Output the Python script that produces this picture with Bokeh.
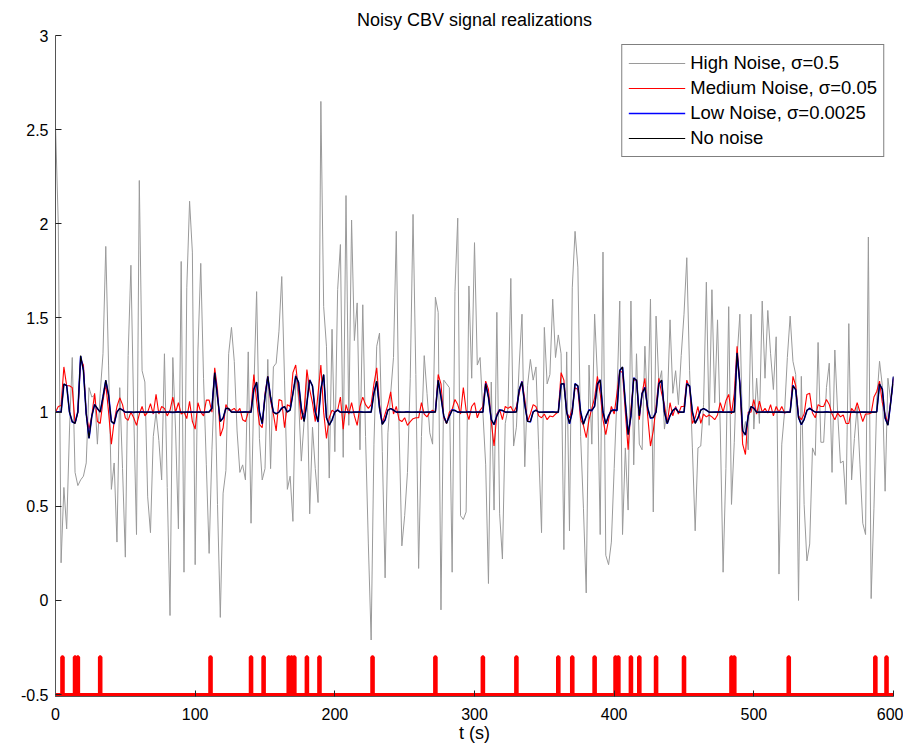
import numpy as np
from bokeh.plotting import figure
from bokeh.models import FixedTicker, Range1d, PrintfTickFormatter
from bokeh.embed import file_html
from bokeh.resources import INLINE

# ---------------- data ----------------
title_text = "Noisy CBV signal realizations"
x_label = "t (s)"
t_start, t_end, dt = 0, 600, 2
x_ticks = [0, 100, 200, 300, 400, 500, 600]
y_ticks = [-0.5, 0, 0.5, 1, 1.5, 2, 2.5, 3]

series_names = ["High Noise, σ=0.5", "Medium Noise, σ=0.05",
                "Low Noise, σ=0.0025", "No noise"]

# stimulus onsets (s) and the levels of the stimulus trace
stim_times = [5, 14, 16, 32, 111, 140, 149, 167, 169, 171, 180, 189, 227,
              272, 306, 330, 360, 370, 386, 401, 403, 412, 418, 430, 450,
              484, 486, 525, 587, 595]
stim_off, stim_on = -0.5, -0.3

# samples every 2 s, t = 0 ... 600 (10 values per row)
no_noise = [
    1.0, 1.0, 1.0, 1.15, 1.14, 1.0, 0.95, 0.94, 1.0, 1.30,
    1.22, 0.99, 0.86, 0.98, 1.04, 1.02, 1.0, 1.08, 1.17, 1.09,
    0.95, 0.94, 1.0, 1.02, 1.01, 1.0, 1.0, 1.0, 1.0, 1.0,
    1.0, 1.0, 1.0, 1.0, 1.0, 1.0, 1.0, 1.0, 1.0, 1.0,
    1.0, 1.0, 1.0, 1.0, 1.0, 1.0, 1.0, 1.0, 1.0, 1.0,
    1.0, 1.0, 1.0, 1.0, 1.0, 1.0, 1.02, 1.21, 1.08, 0.95,
    0.97, 1.02, 1.02, 1.0, 1.0, 1.0, 1.0, 1.0, 1.0, 1.0,
    1.0, 1.12, 1.16, 1.0, 0.94, 1.08, 1.19, 1.08, 1.0, 0.99,
    1.0, 1.02, 1.03, 1.0, 1.01, 1.1, 1.19, 1.16, 1.02, 0.95,
    1.05, 1.17, 1.14, 1.0, 0.95, 1.12, 1.2, 0.97, 0.93, 0.96,
    1.0, 1.01, 1.0, 1.0, 1.0, 1.0, 1.0, 1.0, 1.0, 1.0,
    1.0, 1.0, 1.0, 1.0, 1.1, 1.165, 1.02, 0.935, 0.96, 1.01,
    1.02, 1.01, 1.0, 1.0, 1.0, 1.0, 1.0, 1.0, 1.0, 1.0,
    1.0, 1.0, 1.0, 1.0, 1.0, 1.0, 1.0, 1.17, 1.08, 0.98,
    0.94, 0.98, 1.01, 1.01, 1.0, 1.0, 1.0, 1.0, 1.0, 1.0,
    1.0, 1.0, 1.0, 1.0, 1.15, 1.08, 0.96, 0.935, 0.98, 1.01,
    1.01, 1.0, 1.0, 1.0, 1.0, 1.0, 1.12, 1.16, 1.04, 0.95,
    0.95, 1.0, 1.01, 1.0, 1.0, 1.0, 1.0, 1.0, 1.0, 1.0,
    1.0, 1.15, 1.15, 1.0, 0.94, 1.0, 1.15, 1.14, 1.0, 0.935,
    0.98, 1.01, 1.01, 1.03, 1.15, 1.17, 1.0, 0.94, 0.98, 1.01,
    1.01, 1.01, 1.22, 1.24, 1.05, 0.88, 0.98, 1.18, 1.17, 0.98,
    1.1, 1.13, 1.02, 0.97, 0.97, 1.0, 1.15, 1.17, 1.0, 0.94,
    0.98, 1.01, 1.02, 1.0, 1.0, 1.0, 1.15, 1.14, 1.0, 0.94,
    0.97, 1.01, 1.02, 1.01, 1.0, 1.0, 1.0, 1.0, 1.0, 1.0,
    1.0, 1.0, 1.0, 1.0, 1.315, 1.15, 0.9, 0.88, 0.98, 1.03,
    1.02, 1.0, 1.0, 1.0, 1.0, 1.0, 1.0, 1.0, 1.0, 1.0,
    1.0, 1.0, 1.0, 1.0, 1.14, 1.12, 0.97, 0.935, 0.96, 1.01,
    1.02, 1.01, 1.0, 1.0, 1.0, 1.0, 1.0, 1.0, 1.0, 1.0,
    1.0, 1.0, 1.0, 1.0, 1.0, 1.0, 1.0, 1.0, 1.0, 1.0,
    1.0, 1.0, 1.0, 1.0, 1.0, 1.15, 1.12, 0.97, 0.93, 1.05,
    1.19,
]

low_noise = [
    1.0, 1.002, 0.999, 1.148, 1.142, 1.001, 0.948, 0.942, 1.002, 1.297,
    1.222, 0.992, 0.862, 0.978, 1.041, 1.018, 1.001, 1.082, 1.168, 1.092,
    0.951, 0.938, 1.002, 1.019, 1.012, 0.999, 1.001, 1.0, 0.998, 1.001,
    1.0, 1.002, 0.999, 1.0, 1.001, 0.998, 1.0, 1.002, 1.0, 0.999,
    1.001, 1.0, 0.998, 1.0, 1.002, 1.0, 0.999, 1.001, 1.0, 1.0,
    0.999, 1.001, 1.0, 0.998, 1.0, 1.002, 1.021, 1.208, 1.082, 0.952,
    0.968, 1.021, 1.018, 1.001, 1.0, 0.999, 1.001, 1.0, 1.002, 1.0,
    0.999, 1.122, 1.158, 1.002, 0.938, 1.082, 1.188, 1.079, 1.001, 0.992,
    1.0, 1.022, 1.028, 1.001, 1.012, 1.098, 1.192, 1.158, 1.021, 0.952,
    1.048, 1.172, 1.138, 1.002, 0.948, 1.122, 1.198, 0.972, 0.932, 0.958,
    1.001, 1.012, 0.999, 1.0, 1.001, 1.0, 0.998, 1.001, 1.0, 1.002,
    1.0, 0.999, 1.001, 1.0, 1.102, 1.162, 1.022, 0.937, 0.958, 1.012,
    1.018, 1.011, 1.0, 1.001, 0.999, 1.0, 1.002, 1.0, 0.999, 1.0,
    1.001, 1.0, 0.998, 1.0, 1.001, 1.0, 1.002, 1.168, 1.082, 0.978,
    0.942, 0.978, 1.012, 1.008, 1.0, 1.001, 0.999, 1.0, 1.002, 1.0,
    0.999, 1.001, 1.0, 1.0, 1.152, 1.078, 0.962, 0.933, 0.982, 1.012,
    1.008, 1.0, 1.001, 0.999, 1.0, 1.002, 1.118, 1.162, 1.038, 0.952,
    0.948, 1.002, 1.011, 1.0, 0.999, 1.001, 1.0, 1.0, 1.002, 0.999,
    1.0, 1.148, 1.152, 1.002, 0.938, 1.001, 1.152, 1.138, 1.002, 0.937,
    0.978, 1.012, 1.008, 1.032, 1.148, 1.172, 1.002, 0.938, 0.982, 1.008,
    1.012, 1.008, 1.222, 1.238, 1.052, 0.882, 0.978, 1.182, 1.168, 0.982,
    1.098, 1.132, 1.022, 0.968, 0.972, 1.001, 1.152, 1.168, 1.002, 0.938,
    0.982, 1.008, 1.022, 1.0, 1.001, 0.999, 1.152, 1.138, 1.002, 0.942,
    0.968, 1.012, 1.018, 1.011, 1.0, 0.999, 1.001, 1.0, 1.002, 1.0,
    0.999, 1.001, 1.0, 1.002, 1.312, 1.152, 0.902, 0.878, 0.982, 1.028,
    1.022, 1.0, 0.999, 1.001, 1.0, 1.002, 1.0, 0.999, 1.0, 1.001,
    1.0, 0.998, 1.001, 1.0, 1.142, 1.118, 0.972, 0.933, 0.962, 1.008,
    1.022, 1.008, 1.0, 1.001, 0.999, 1.0, 1.002, 1.0, 0.999, 1.001,
    1.0, 1.0, 1.002, 0.999, 1.0, 1.001, 1.0, 0.998, 1.0, 1.001,
    1.0, 0.999, 1.001, 1.0, 1.002, 1.148, 1.122, 0.968, 0.932, 1.052,
    1.188,
]

medium_noise = [
    1.0, 1.03, 1.035, 1.24, 1.14, 1.14, 1.13, 0.94, 1.0, 1.28,
    1.25, 0.99, 0.91, 0.98, 1.10, 0.95, 0.94, 1.06, 1.15, 1.0,
    0.83, 0.95, 1.03, 1.076, 1.04, 0.97, 0.956, 1.0, 0.97, 0.93,
    0.99, 1.03, 0.98, 1.0, 1.045, 0.99, 1.094, 0.99, 1.03, 1.02,
    0.98, 1.01, 1.08, 1.0, 1.05, 0.99, 1.0, 0.966, 1.058, 0.95,
    0.91, 1.05, 1.0, 0.98, 1.064, 1.064, 1.0, 1.235, 1.12, 0.873,
    0.917, 1.04, 1.01, 1.01, 1.02, 1.0, 1.02, 0.96, 0.95, 1.0,
    1.01, 1.2, 1.06, 0.935, 0.917, 1.1, 1.19, 1.06, 0.99, 0.90,
    1.067, 1.06, 0.917, 1.04, 1.03, 1.21, 1.25, 1.11, 0.96, 1.0,
    1.226, 1.12, 1.05, 0.95, 1.1, 1.25, 1.0, 0.86, 0.97, 1.01,
    1.0, 1.01, 1.08, 0.91, 1.04, 0.99, 1.05, 0.98, 0.93, 1.03,
    1.08, 1.04, 1.02, 1.04, 1.15, 1.235, 1.04, 0.94, 0.99, 1.04,
    1.108, 0.99, 1.03, 0.96, 0.95, 0.97, 0.93, 0.95, 0.965, 0.97,
    0.97, 1.05, 0.99, 0.975, 1.0, 1.01, 1.0, 1.2, 1.15, 0.97,
    0.94, 1.0, 1.015, 1.067, 1.04, 0.99, 1.13, 1.01, 0.96, 1.03,
    1.05, 0.97, 1.01, 1.03, 1.165, 1.12, 0.95, 0.82, 0.99, 1.015,
    0.96, 1.03, 1.02, 1.03, 1.0, 1.03, 1.1, 1.165, 1.07, 0.95,
    0.99, 1.04, 1.03, 0.98, 0.97, 0.99, 0.96, 0.98, 0.975, 0.99,
    1.0, 1.21, 1.17, 1.0, 0.97, 1.02, 1.13, 1.12, 0.96, 0.93,
    0.864, 0.96, 1.02, 1.076, 1.19, 1.1, 0.96, 0.88, 0.96, 1.03,
    0.99, 1.1, 1.22, 1.21, 1.0, 0.80, 1.02, 1.17, 1.17, 0.96,
    1.1, 1.18, 0.98, 0.82, 0.9, 1.03, 1.18, 1.1, 1.04, 0.94,
    1.05, 0.98, 1.03, 0.99, 1.03, 1.03, 1.17, 1.13, 0.94, 0.97,
    1.03, 0.94, 0.99, 0.975, 0.985, 0.975, 0.96, 0.985, 1.05, 1.0,
    1.06, 1.094, 0.99, 1.1, 1.35, 1.15, 0.83, 0.775, 1.0, 1.0,
    1.067, 0.99, 1.058, 1.0, 1.02, 0.995, 1.04, 0.98, 1.03, 1.0,
    1.03, 0.995, 1.0, 1.0, 1.19, 1.14, 0.98, 0.96, 0.99, 1.094,
    1.1, 0.995, 0.97, 1.04, 1.03, 1.03, 1.067, 1.04, 0.99, 0.96,
    0.995, 0.975, 0.985, 0.94, 0.94, 1.02, 1.0, 1.05, 1.0, 0.95,
    0.99, 0.99, 0.995, 1.08, 1.11, 1.165, 1.05, 0.99, 0.94, 1.06,
    1.18,
]

high_noise = [
    2.52, 2.0, 0.2, 0.6, 0.38, 0.9, 1.29, 0.68, 0.61, 0.64,
    0.66, 0.73, 1.13, 1.08, 1.09, 0.83, 1.1, 1.31, 1.88, 1.25,
    0.59, 0.73, 0.31, 1.13, 0.7, 0.23, 1.3, 1.78, 1.0, 0.35,
    2.23, 1.22, 1.16, 0.55, 0.36, 0.87, 1.0, 0.85, 0.64, 1.31,
    0.6, -0.08, 1.29, 0.9, 0.38, 1.8, 0.15, 1.66, 2.12, 1.85,
    0.19, 1.33, 1.79, 1.18, 0.72, 0.25, 0.8, 1.2, 0.51, -0.09,
    0.57, 0.69, 1.31, 1.45, 1.27, 0.9, 0.68, 0.72, 0.64, 1.32,
    0.41, 1.11, 1.64, 0.86, 0.64, 0.7, 1.28, 0.7, 1.24, 1.26,
    1.43, 1.72, 1.17, 0.59, 0.66, 0.42, 1.2, 1.07, 0.74, 0.95,
    1.2, 0.46, 0.92, 0.7, 0.52, 2.65, 1.56, 1.35, 0.65, 1.44,
    0.79, 1.65, 1.89, 0.76, 2.15, 0.93, 2.02, 1.38, 1.58, 0.8,
    1.57, 0.87, 0.3, -0.21, 0.83, 1.35, 1.42, 0.79, 0.12, 0.89,
    1.1, 1.29, 1.96, 0.91, 0.29, 0.45, 0.68, 1.18, 2.05, 1.2,
    0.17, 0.87, 1.3, 1.1, 0.89, 0.83, 1.61, 1.53, -0.05, 1.17,
    1.15, 1.13, 0.15, 1.64, 2.03, 0.45, 0.43, 0.47, 1.67, 1.18,
    1.9, 1.25, 1.29, 1.0, 0.72, 0.09, 1.16, 0.48, 1.53, 0.46,
    0.22, 0.94, 1.02, 1.71, 0.82, 0.92, 1.25, 1.52, 0.71, 1.14,
    1.28, 1.17, 1.24, 0.8, 0.36, 1.45, 1.15, 1.2, 1.6, 1.29,
    1.41, 1.31, 0.27, 1.32, 0.37, 1.66, 1.96, 1.77, 0.87, 0.49,
    0.04, 1.25, 0.83, 1.52, 1.19, 0.35, 1.85, 0.24, 0.19, 0.31,
    0.7, 1.08, 1.59, 0.35, 0.81, 0.48, 1.59, 0.72, 1.31, 0.83,
    0.8, 1.35, 0.98, 1.6, 0.47, 1.51, 1.15, 1.22, 0.91, 1.02,
    1.49, 1.1, 1.22, 1.04, 1.3, 1.52, 1.82, 1.22, 0.81, 0.37,
    0.81, 0.82, 1.04, 1.69, 0.93, 1.65, 1.05, 1.49, 0.9, 0.15,
    0.7, 1.56, 0.51, 0.84, 1.29, 1.52, 0.87, 0.95, 0.8, 1.52,
    0.91, 1.18, 0.94, 1.59, 1.18, 1.54, 1.31, 1.12, 1.4, 0.14,
    0.83, 1.0, 1.29, 1.51, 1.27, 1.2, 0.0, 1.19, 0.51, 0.21,
    0.3, 0.81, 0.77, 1.37, 0.84, 0.84, 1.13, 1.26, 0.68, 1.33,
    1.0, 0.73, 0.74, 0.51, 1.47, 0.64, 0.86, 1.03, 0.72, 0.41,
    0.35, 1.93, 0.01, 0.49, 1.06, 1.27, 1.14, 0.58, 1.18, 1.06,
    1.15,
]

# ---------------- derived ----------------
t = np.arange(t_start, t_end + dt, dt)
for s in (no_noise, low_noise, medium_noise, high_noise):
    assert len(s) == len(t), len(s)

t_fine = np.arange(t_start, t_end + 1)
stim_trace = np.where(np.isin(t_fine, stim_times), stim_on, stim_off)

FONT = "Liberation Sans"

p = figure(frame_width=838, frame_height=661,
           x_range=Range1d(t_start, t_end), y_range=Range1d(-0.51, 3.0),
           output_backend="svg", toolbar_location=None,
           min_border_left=55, min_border_right=10,
           min_border_top=35, min_border_bottom=40,
           background_fill_color="white", border_fill_color="white")

p.line(t, high_noise, line_color="#9a9a9a", line_width=1, legend_label=series_names[0])
p.line(t, medium_noise, line_color="#ff0000", line_width=1.1, legend_label=series_names[1])
p.line(t, low_noise, line_color="#0000ff", line_width=1.6, legend_label=series_names[2])
p.line(t, no_noise, line_color="#000000", line_width=1.1, legend_label=series_names[3])
p.step(t_fine, stim_trace, mode="center", line_color="#ff0000", line_width=3.2)

# title
p.title.text = title_text
p.title.align = "center"
p.title.text_font = FONT
p.title.text_font_size = "18px"
p.title.text_font_style = "normal"
p.title.text_color = "black"
p.title.standoff = 12

# axes
for ax in (p.xaxis, p.yaxis):
    ax.major_tick_in = 6
    ax.major_tick_out = 0
    ax.minor_tick_line_color = None
    ax.axis_line_color = "#555555"
    ax.major_tick_line_color = "#222222"
    ax.major_label_text_font = FONT
    ax.major_label_text_font_size = "16px"
    ax.major_label_text_color = "black"
    ax.formatter = PrintfTickFormatter(format="%g")

p.xaxis.ticker = FixedTicker(ticks=x_ticks)
p.yaxis.ticker = FixedTicker(ticks=y_ticks)
p.xaxis.major_label_standoff = 11
p.yaxis.major_label_standoff = 7
p.xaxis.axis_label = x_label
p.xaxis.axis_label_text_font = FONT
p.xaxis.axis_label_text_font_size = "18px"
p.xaxis.axis_label_text_font_style = "normal"
p.xaxis.axis_label_text_color = "black"
p.xaxis.axis_label_standoff = 0

p.grid.visible = False
p.outline_line_color = None

# legend
lg = p.legend[0]
lg.location = "top_right"
lg.margin = 9
lg.padding = 6
lg.spacing = 1
lg.glyph_width = 57
lg.glyph_height = 24
lg.label_standoff = 5
lg.label_text_font = FONT
lg.label_text_font_size = "18.5px"
lg.label_text_color = "black"
lg.border_line_color = "black"
lg.border_line_width = 1
lg.background_fill_alpha = 1.0

open("out.html", "w").write(file_html(p, INLINE))
